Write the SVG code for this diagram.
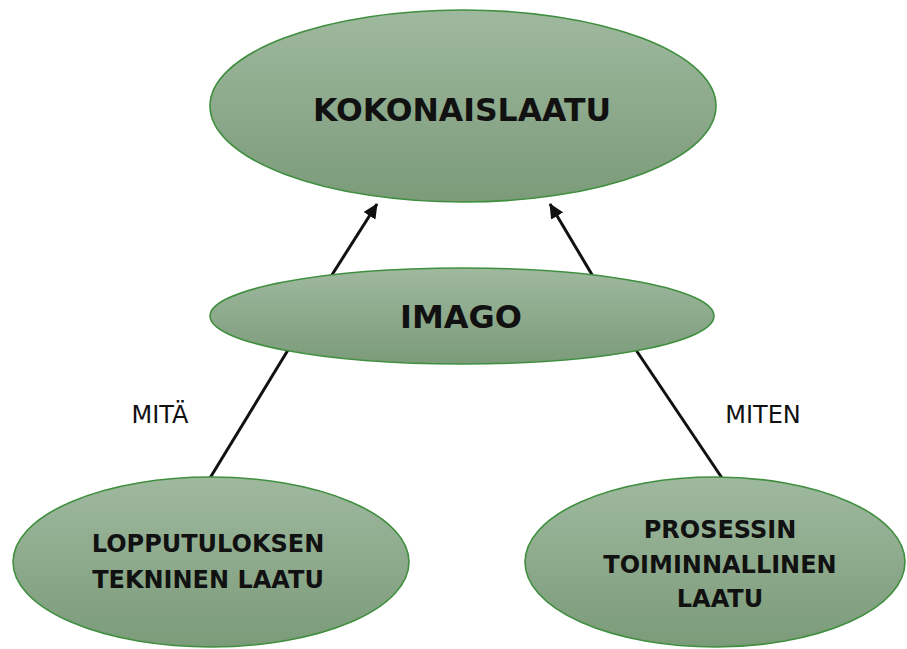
<svg xmlns="http://www.w3.org/2000/svg" width="907" height="649" viewBox="0 0 907 649">
<style>
.node{stroke:#3f8f3f;stroke-width:1.6;fill:url(#g)}
.t{font-family:"DejaVu Sans",sans-serif;font-weight:bold;fill:#111;text-anchor:middle}
.lbl{font-family:"DejaVu Sans",sans-serif;font-size:24px;fill:#111;text-anchor:middle}
.c{stroke:#111;stroke-width:3;fill:none}
</style>
<defs>
<linearGradient id="g" x1="0" y1="0" x2="0" y2="1">
<stop offset="0" stop-color="#9fb99f"/>
<stop offset="1" stop-color="#7b9b79"/>
</linearGradient>
<marker id="ah" markerUnits="userSpaceOnUse" markerWidth="16" markerHeight="14" refX="14" refY="7" orient="auto">
<path d="M0,0 L15,7 L0,14 Z" fill="#111"/>
</marker>
</defs>
<rect width="907" height="649" fill="#fff"/>
<g id="connectors">
<line class="c" x1="330" y1="278" x2="377" y2="204" marker-end="url(#ah)"/>
<line class="c" x1="594" y1="278" x2="550" y2="204" marker-end="url(#ah)"/>
<line class="c" x1="210" y1="478" x2="288" y2="350"/>
<line class="c" x1="722" y1="478" x2="636" y2="350"/>
</g>
<g id="kokonaislaatu">
<ellipse class="node" cx="463" cy="106" rx="253" ry="96"/>
<text class="t" x="462" y="121" font-size="31.5">KOKONAISLAATU</text>
</g>
<g id="imago">
<ellipse class="node" cx="462" cy="316" rx="252" ry="48"/>
<text class="t" x="461" y="328" font-size="32">IMAGO</text>
</g>
<g id="lopputuloksen">
<ellipse class="node" cx="211" cy="562" rx="198" ry="85"/>
<text class="t" x="208" y="552" font-size="24">LOPPUTULOKSEN</text>
<text class="t" x="208" y="588" font-size="24">TEKNINEN LAATU</text>
</g>
<g id="prosessin">
<ellipse class="node" cx="715" cy="562" rx="190" ry="85"/>
<text class="t" x="720" y="538" font-size="24">PROSESSIN</text>
<text class="t" x="720" y="573" font-size="24">TOIMINNALLINEN</text>
<text class="t" x="720" y="607" font-size="24">LAATU</text>
</g>
<g id="labels">
<text class="lbl" x="160" y="423">MITÄ</text>
<text class="lbl" x="763" y="423">MITEN</text>
</g>
</svg>
